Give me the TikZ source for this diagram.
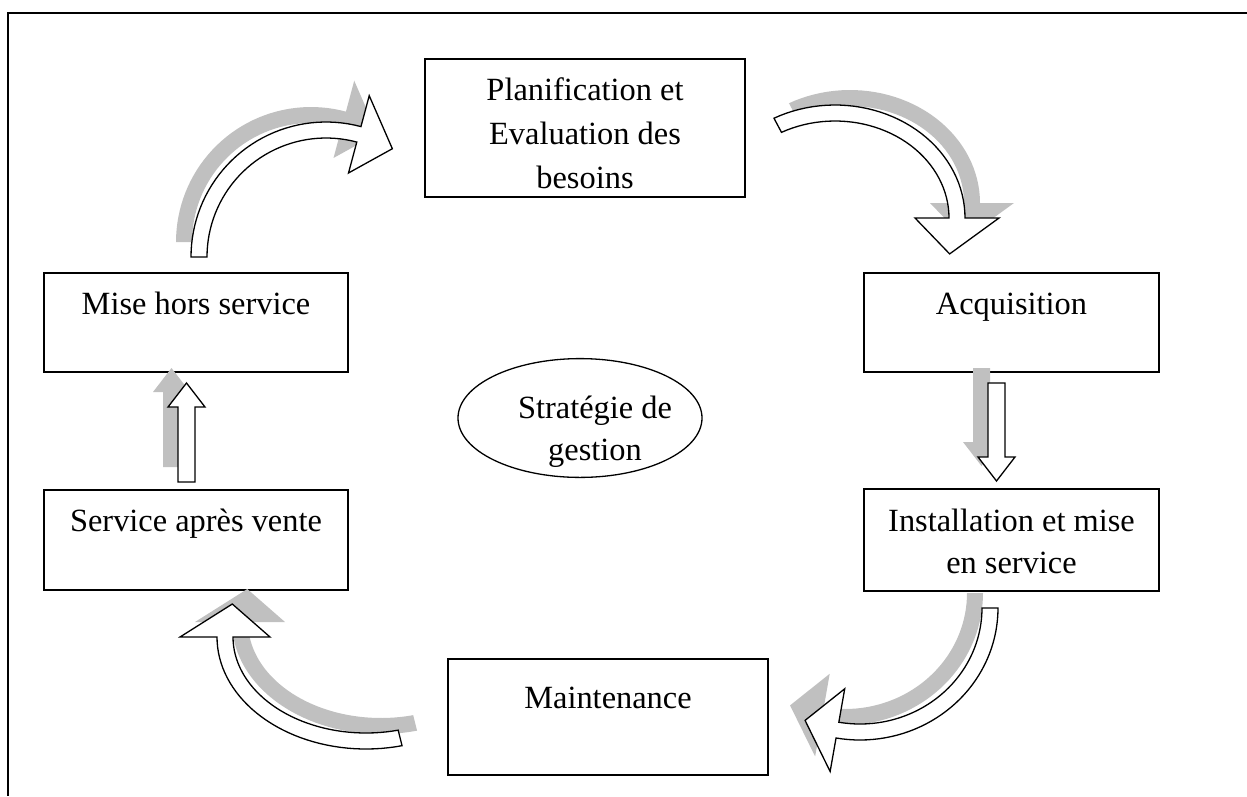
\documentclass[tikz,border=0pt]{standalone}
\usepackage{fontspec}
\setmainfont{Liberation Serif}
\usetikzlibrary{calc, shapes.geometric}
\definecolor{shadeG}{RGB}{192,192,192}
\tikzset{
  stepbox/.style={draw, line width=1.6pt, inner sep=0pt, outer sep=0pt,
    anchor=north west, align=center, text height=41pt},
  blockar/.style={draw, fill=white, line width=1.3pt, line join=miter},
  blockshade/.style={fill=shadeG}
}
% curved block arrow: shadow shift, cx, cy, rx, ry, start, end, tip angle, head half width
\newcommand{\bentarrow}[9]{%
  \def\bentpath{plot[domain=#6:#7, samples=40] ({#2+(#4+8)*cos(\x)},{#3+(#5+8)*sin(\x)})
    -- ({#2+(#4+#9)*cos(#7)},{#3+(#5+#9)*sin(#7)})
    -- ({#2+#4*cos(#7+#8)},{#3+#5*sin(#7+#8)})
    -- ({#2+(#4-#9)*cos(#7)},{#3+(#5-#9)*sin(#7)})
    -- plot[domain=#7:#6, samples=40] ({#2+(#4-8)*cos(\x)},{#3+(#5-8)*sin(\x)}) -- cycle}%
  \begin{scope}[transform canvas={shift={#1}}]
    \fill[blockshade] \bentpath;
  \end{scope}
  \draw[blockar] \bentpath;}
% straight block arrow: shadow shift, tail, tip
\newcommand{\straightarrow}[3]{%
  \coordinate (hb) at ($(#3)!24pt!(#2)$);
  \def\straightpath{($(#2)!8.5pt!90:(#3)$) -- ($(hb)!8.5pt!90:(#3)$) -- ($(hb)!18.5pt!90:(#3)$)
    -- (#3) -- ($(hb)!18.5pt!-90:(#3)$) -- ($(hb)!8.5pt!-90:(#3)$) -- ($(#2)!8.5pt!-90:(#3)$) -- cycle}%
  \begin{scope}[transform canvas={shift={#1}}]
    \fill[blockshade] \straightpath;
  \end{scope}
  \draw[blockar] \straightpath;}

\begin{document}
\begin{tikzpicture}[x=1pt, y=-1pt, every node/.style={font=\fontsize{32.4}{42}\selectfont}]
\useasboundingbox (0,0) rectangle (1247,796);
% frame
\draw[line width=1.6pt] (1247,13) -- (8,13) -- (8,796);
% the six steps (text height is measured to the last line)
\node[stepbox, minimum width=320pt, text height=129pt, text depth=9pt,
  font=\fontsize{32.4}{44}\selectfont] (plan) at (425,59) {Planification et\\Evaluation des\\besoins};
\node[stepbox, minimum width=295pt, text depth=58pt] (acq) at (864,273) {Acquisition};
\node[stepbox, minimum width=295pt, text height=84pt, text depth=18pt] (inst) at (864,489) {Installation et mise\\en service};
\node[stepbox, minimum width=320pt, text height=49pt, text depth=67pt] (maint) at (448,659) {Maintenance};
\node[stepbox, minimum width=304pt, text depth=59pt] (sav) at (44,490) {Service après vente};
\node[stepbox, minimum width=304pt, text depth=58pt] (mise) at (44,273) {Mise hors service};
% centre
\node[draw, ellipse, line width=1.3pt, minimum width=244pt, minimum height=116pt, inner sep=0pt,
  align=center, text height=84pt, text depth=0pt] (strat) at (580,418)
  {\hspace*{15pt}Stratégie de\hspace*{-15pt}\\\hspace*{15pt}gestion\hspace*{-15pt}};
% straight arrows
\coordinate (upT) at ($(sav.north)+(-9.5,-8)$);
\coordinate (upH) at ($(mise.south)+(-9.5,11)$);
\coordinate (dnT) at ($(acq.south)+(-15,11)$);
\coordinate (dnH) at ($(inst.north)+(-15,-8)$);
\straightarrow{(-15,-15)}{upT}{upH}
\straightarrow{(-15,-15)}{dnT}{dnH}
% curved arrows
\bentarrow{(-15,-15)}{326}{257}{127}{127}{180}{285}{16.5}{40}
\bentarrow{(15,-15)}{835}{218}{122}{105}{242}{360}{20}{42}
\bentarrow{(-15,-15)}{860}{608}{130}{124}{0}{100}{15}{42}
\bentarrow{(15,-15)}{366}{637}{141}{104}{76}{180}{18.5}{45}
\end{tikzpicture}
\end{document}
